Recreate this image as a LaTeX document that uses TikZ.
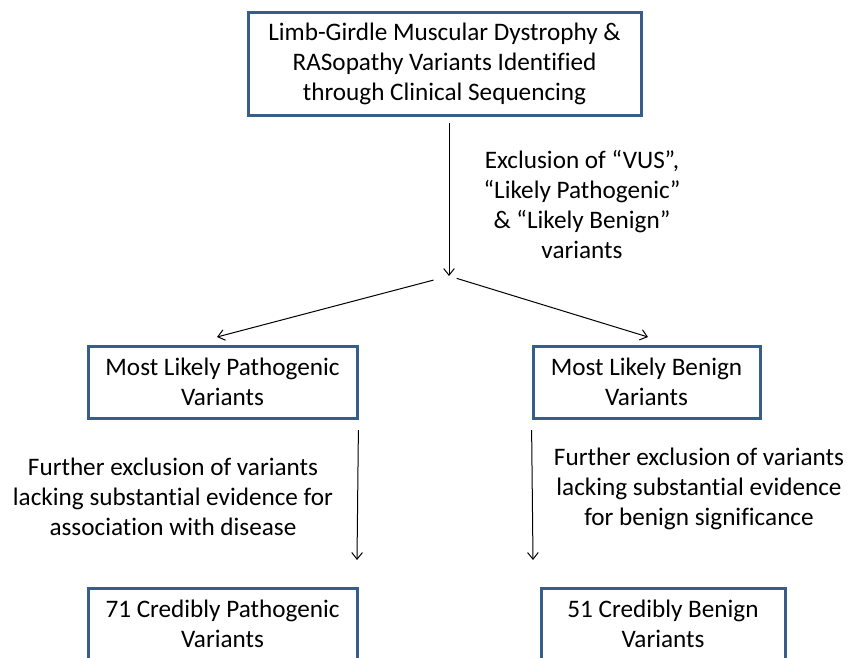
\documentclass[tikz,border=0pt]{standalone}
\usepackage{fontspec}
\setmainfont{Carlito}[Ligatures=CommonOff]
\usepackage{xcolor}
\definecolor{boxblue}{HTML}{385D8A}
\usepackage{tikz}
\usetikzlibrary{arrows.meta,positioning}

\begin{document}
\begin{tikzpicture}[x=0.75pt,y=-0.75pt,
  font=\fontsize{18.9}{22.5}\selectfont,
  stagebox/.style={draw=boxblue,line width=2.25pt,align=center,inner sep=2pt},
  note/.style={align=center,inner sep=0pt},
  arr/.style={-{Straight Barb[length=5pt,width=8pt]},line width=0.75pt}]
\clip (0,0) rectangle (848,657);
% boxes
\node[stagebox,minimum width=294.75pt,minimum height=77.25pt] (top) at (444.5,63.5)
  {Limb-Girdle Muscular Dystrophy \&\\RASopathy Variants Identified\\through Clinical Sequencing};
\node[stagebox,minimum width=201.75pt,minimum height=54pt] (midL) at (222.5,382)
  {Most Likely Pathogenic\\Variants};
\node[stagebox,minimum width=170.25pt,minimum height=54pt] (midR) at (646.5,382)
  {Most Likely Benign\\Variants};
\node[stagebox,minimum width=201.75pt,minimum height=54pt] (botL) at (222.5,624)
  {71 Credibly Pathogenic\\Variants};
\node[stagebox,minimum width=183pt,minimum height=54pt] (botR) at (663,624)
  {51 Credibly Benign\\Variants};
% labels
\node[note] (exclLbl) at (582,204)
  {Exclusion of “VUS”,\\“Likely Pathogenic”\\\& “Likely Benign”\\variants};
\node[note] (furtherL) at (173,497)
  {Further exclusion of variants\\lacking substantial evidence for\\association with disease};
\node[note] (furtherR) at (699,489)
  {Further exclusion of variants\\lacking substantial evidence\\for benign significance};
% connectors
\coordinate (split) at (449,276);
\coordinate (tipL) at (217,337);
\coordinate (tipR) at (648,337);
\coordinate (endL) at (357,560);
\coordinate (endR) at (533,560);
\draw[arr,shorten <=5pt] (top.south -| split) -- (split);
\draw[arr,shorten <=12pt] (split) -- (tipL);
\draw[arr,shorten <=6pt] (split) -- (tipR);
\draw[arr,shorten <=8pt] (midL.south east) -- (endL);
\draw[arr,shorten <=8pt] (midR.south west) -- (endR);
\end{tikzpicture}
\end{document}
